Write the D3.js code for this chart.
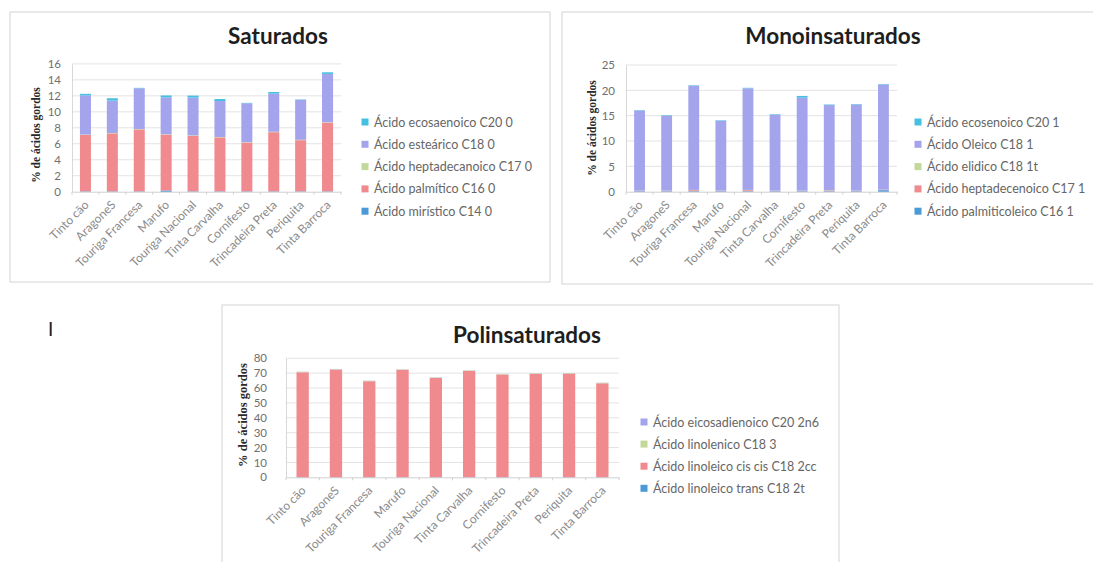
<!DOCTYPE html>
<html>
<head>
<meta charset="utf-8">
<script src="https://cdn.jsdelivr.net/npm/d3@7"></script>
<style>
  html, body { margin: 0; padding: 0; background: #fff; }
  svg { display: block; font-family: Lato, "Open Sans", sans-serif; }
</style>
</head>
<body>
<svg id="chart" width="1093" height="562"></svg>
<script>
// Grape varieties (shared by the three panels)
const categories = ["Tinto cão", "AragoneS", "Touriga Francesa", "Marufo", "Touriga Nacional",
                    "Tinta Carvalha", "Cornifesto", "Trincadeira Preta", "Periquita", "Tinta Barroca"];

// Saturated fatty acids (% of total), stacked bottom to top
const satSeries = ["Ácido mirístico C14 0", "Ácido palmítico C16 0", "Ácido heptadecanoico C17 0",
                   "Ácido esteárico C18 0", "Ácido ecosaenoico C20 0"];
const satC14 = [0.05, 0.05, 0.05, 0.15, 0.05, 0.05, 0.05, 0.05, 0.05, 0.05];
const satC16 = [7.05, 7.25, 7.75, 7.00, 6.95, 6.75, 6.10, 7.40, 6.40, 8.60];
const satC17 = [0.05, 0.05, 0.05, 0.05, 0.05, 0.05, 0.05, 0.05, 0.05, 0.05];
const satC18 = [4.90, 4.05, 5.10, 4.60, 4.73, 4.50, 4.87, 4.78, 5.00, 6.05];
const satC20 = [0.20, 0.30, 0.05, 0.25, 0.25, 0.25, 0.05, 0.20, 0.05, 0.20];
const satTicks = [0, 2, 4, 6, 8, 10, 12, 14, 16];

// Monounsaturated fatty acids
const monoSeries = ["Ácido palmiticoleico C16 1", "Ácido heptadecenoico C17 1", "Ácido elidico C18 1t",
                    "Ácido Oleico  C18 1", "Ácido ecosenoico C20 1"];
const monoC16 = [0.10, 0.10, 0.10, 0.10, 0.10, 0.10, 0.10, 0.10, 0.10, 0.30];
const monoC17 = [0.05, 0.05, 0.20, 0.05, 0.20, 0.05, 0.05, 0.15, 0.05, 0.05];
const monoC18t = [0.05, 0.05, 0.05, 0.05, 0.05, 0.05, 0.05, 0.05, 0.05, 0.05];
const monoC18 = [15.80, 14.80, 20.55, 13.80, 20.05, 15.00, 18.35, 16.80, 17.00, 20.75];
const monoC20 = [0.10, 0.10, 0.10, 0.10, 0.10, 0.10, 0.35, 0.10, 0.10, 0.10];
const monoTicks = [0, 5, 10, 15, 20, 25];

// Polyunsaturated fatty acids
const poliSeries = ["Ácido linoleico trans C18 2t", "Ácido linoleico cis cis C18 2cc",
                    "Ácido linolenico C18 3", "Ácido eicosadienoico C20 2n6"];
const poliC18t = [0.10, 0.10, 0.10, 0.10, 0.10, 0.10, 0.10, 0.10, 0.10, 0.10];
const poliC18cc = [70.5, 72.3, 64.5, 72.1, 66.7, 71.4, 69.0, 69.4, 69.6, 63.1];
const poliC18_3 = [0.30, 0.30, 0.30, 0.30, 0.30, 0.30, 0.30, 0.30, 0.30, 0.30];
const poliC20 = [0.10, 0.10, 0.10, 0.10, 0.10, 0.10, 0.10, 0.10, 0.10, 0.10];
const poliTicks = [0, 10, 20, 30, 40, 50, 60, 70, 80];

const C = {
  blue: "#4a9ad8",
  red: "#f08a8e",
  green: "#c3d99c",
  purple: "#a4a4ec",
  aqua: "#47bfe0"
};

const svg = d3.select("#chart");

function drawPanel(opt) {
  const g = svg.append("g");

  // panel frame
  g.append("rect")
    .attr("x", opt.frame[0]).attr("y", opt.frame[1])
    .attr("width", opt.frame[2]).attr("height", opt.frame[3])
    .attr("fill", "#fff").attr("stroke", "#d4d4d4").attr("stroke-width", 1);

  const [x0, x1, yBase, yTop] = opt.plot;
  const x = d3.scaleBand().domain(categories).range([x0, x1])
    .paddingInner(opt.pad).paddingOuter(opt.pad / 2);
  const yMax = opt.ticks[opt.ticks.length - 1];
  const y = d3.scaleLinear().domain([0, yMax]).range([yBase, yTop]);

  // horizontal gridlines
  g.append("g").selectAll("line").data(opt.ticks.slice(1)).join("line")
    .attr("x1", x0).attr("x2", x1)
    .attr("y1", d => y(d)).attr("y2", d => y(d))
    .attr("stroke", "#e3e3e3").attr("stroke-width", 1);

  // value axis
  const ya = g.append("g").attr("transform", `translate(${x0},0)`)
    .call(d3.axisLeft(y).tickValues(opt.ticks).tickSize(0).tickPadding(opt.tickPad));
  ya.select(".domain").attr("stroke", "#d8d8d8");
  ya.selectAll("text").attr("fill", "#6f6f6f").style("font-size", "11.5px")
    .style("font-family", "Lato, sans-serif");

  // category axis
  const xa = g.append("g").attr("transform", `translate(0,${yBase})`)
    .call(d3.axisBottom(x).tickSize(0).tickPadding(0));
  xa.select(".domain").attr("stroke", "#d0d0d0");
  xa.selectAll("text")
    .attr("fill", "#8a8a8a")
    .style("font-size", "12px")
    .style("font-family", "Lato, sans-serif")
    .attr("text-anchor", "end")
    .attr("dy", "0")
    .attr("transform", "translate(4,14) rotate(-45)");
  // small marks between categories
  const step = x.step();
  g.append("g").selectAll("line").data(d3.range(categories.length + 1)).join("line")
    .attr("x1", i => x(categories[0]) - (step - x.bandwidth()) / 2 + i * step)
    .attr("x2", i => x(categories[0]) - (step - x.bandwidth()) / 2 + i * step)
    .attr("y1", yBase).attr("y2", yBase + 3)
    .attr("stroke", "#d0d0d0");

  // stacked bars
  const rows = categories.map((c, i) => {
    const r = { cat: c };
    opt.series.forEach((s, k) => { r[s] = opt.values[k][i]; });
    return r;
  });
  const stacked = d3.stack().keys(opt.series)(rows);
  g.append("g").selectAll("g").data(stacked).join("g")
    .attr("fill", (d, k) => opt.colors[k])
    .selectAll("rect").data(d => d).join("rect")
    .attr("x", d => x(d.data.cat))
    .attr("width", x.bandwidth())
    .attr("y", d => y(d[1]))
    .attr("height", d => Math.max(0, y(d[0]) - y(d[1])));

  // title
  g.append("text")
    .attr("x", opt.title[1]).attr("y", opt.title[2])
    .attr("text-anchor", "middle")
    .attr("fill", "#1e1e1e")
    .style("font-size", "22.5px").style("font-weight", "bold")
    .text(opt.title[0]);

  // value axis title
  g.append("text")
    .attr("transform", `translate(${opt.yTitle[0]},${opt.yTitle[1]}) rotate(-90)`)
    .attr("text-anchor", "middle")
    .attr("fill", "#2a2a2a")
    .style("font-size", opt.yTitle[2] + "px").style("font-weight", "bold")
    .style("font-family", "'Liberation Serif', serif")
    .text("% de ácidos gordos");

  // legend, last series on top
  const order = d3.range(opt.series.length).reverse();
  const lg = g.append("g");
  order.forEach((k, j) => {
    const ly = opt.legend[1] + j * opt.legend[2];
    lg.append("rect")
      .attr("x", opt.legend[0] - 3.5).attr("y", ly - 3.5)
      .attr("width", 7).attr("height", 7)
      .attr("fill", opt.colors[k]);
    lg.append("text")
      .attr("x", opt.legend[0] + 9).attr("y", ly + 4.5)
      .attr("fill", "#666")
      .style("font-size", "12.5px")
      .text(opt.series[k]);
  });
}

drawPanel({
  frame: [10, 12, 540, 270],
  plot: [72, 341, 191.7, 63.9],
  pad: 0.59, tickPad: 11,
  ticks: satTicks,
  series: satSeries,
  values: [satC14, satC16, satC17, satC18, satC20],
  colors: [C.blue, C.red, C.green, C.purple, C.aqua],
  title: ["Saturados", 278, 44],
  yTitle: [40, 135, 11.5],
  legend: [365, 122, 22.3]
});

drawPanel({
  frame: [562, 12, 540, 272],
  plot: [626, 897, 191.7, 65],
  pad: 0.6, tickPad: 11,
  ticks: monoTicks,
  series: monoSeries,
  values: [monoC16, monoC17, monoC18t, monoC18, monoC20],
  colors: [C.blue, C.red, C.green, C.purple, C.aqua],
  title: ["Monoinsaturados", 833, 44],
  yTitle: [596, 128, 11.5],
  legend: [918, 122, 22.3]
});

drawPanel({
  frame: [222, 305, 617, 270],
  plot: [286, 619, 477.3, 358.3],
  pad: 0.63, tickPad: 19,
  ticks: poliTicks,
  series: poliSeries,
  values: [poliC18t, poliC18cc, poliC18_3, poliC20],
  colors: [C.blue, C.red, C.green, C.purple],
  title: ["Polinsaturados", 527, 343],
  yTitle: [247, 415, 12.5],
  legend: [644, 422, 22.1]
});

// stray page mark to the left of the lower panel
svg.append("text").attr("x", 48).attr("y", 336)
  .attr("fill", "#222").style("font-size", "19px").text("I");
</script>
</body>
</html>
